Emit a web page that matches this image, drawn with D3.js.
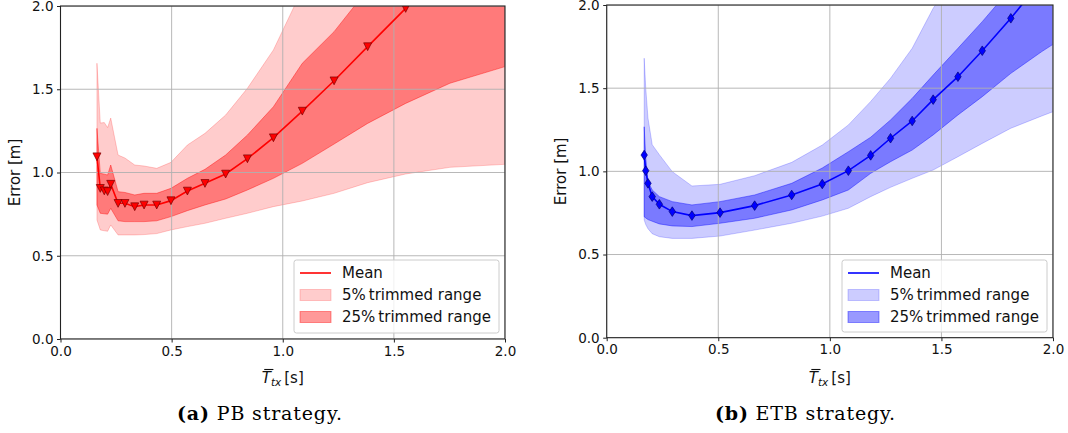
<!DOCTYPE html>
<html>
<head>
<meta charset="utf-8">
<script src="https://cdn.jsdelivr.net/npm/d3@7"></script>
<style>
  html, body { margin: 0; padding: 0; background: #fff; }
  svg { display: block; }
</style>
</head>
<body>
<svg id="chart" width="1068" height="433"></svg>
<script>
// ---------------- DATA ----------------
// (a) PB strategy
const pbT      = [0.164,0.179,0.197,0.212,0.226,0.259,0.290,0.334,0.376,0.433,0.497,0.571,0.650,0.743,0.841,0.958,1.088,1.231,1.382,1.553,1.752,2.000];
const pbMean   = [1.095,0.905,0.890,0.886,0.930,0.815,0.815,0.795,0.805,0.805,0.831,0.889,0.935,0.991,1.083,1.209,1.369,1.551,1.756,1.986,2.250,2.600];
const pbLo5    = [0.715,0.655,0.650,0.647,0.685,0.625,0.625,0.625,0.627,0.633,0.655,0.675,0.695,0.725,0.755,0.795,0.829,0.875,0.939,0.991,1.031,1.049];
const pbHi5    = [1.656,1.297,1.300,1.270,1.327,1.105,1.087,1.045,1.039,1.025,1.061,1.165,1.235,1.345,1.506,1.736,2.100,2.400,2.700,3.000,3.400,3.800];
const pbLo25   = [0.805,0.755,0.752,0.750,0.785,0.710,0.705,0.705,0.705,0.710,0.735,0.771,0.805,0.841,0.895,0.965,1.055,1.171,1.295,1.415,1.536,1.636];
const pbHi25   = [1.265,0.995,0.990,0.985,1.045,0.885,0.880,0.865,0.875,0.875,0.905,0.965,1.019,1.105,1.225,1.395,1.656,1.846,2.100,2.300,2.600,2.900];

// (b) ETB strategy
const etbT     = [0.168,0.175,0.185,0.204,0.236,0.294,0.382,0.508,0.663,0.829,0.966,1.083,1.183,1.272,1.369,1.463,1.574,1.683,1.811,1.950,2.100];
const etbMean  = [1.098,1.004,0.928,0.848,0.802,0.758,0.734,0.752,0.794,0.858,0.924,1.004,1.096,1.199,1.303,1.431,1.569,1.725,1.920,2.150,2.420];
const etbLo5   = [0.707,0.680,0.655,0.625,0.607,0.597,0.597,0.611,0.647,0.688,0.731,0.778,0.848,0.904,0.958,1.008,1.088,1.168,1.259,1.333,1.410];
const etbHi5   = [1.680,1.500,1.320,1.160,1.100,0.998,0.912,0.922,0.974,1.054,1.158,1.279,1.420,1.560,1.740,1.980,2.200,2.450,2.750,3.100,3.500];
const etbLo25  = [0.727,0.720,0.710,0.700,0.684,0.672,0.668,0.688,0.718,0.768,0.828,0.888,0.988,1.058,1.128,1.219,1.339,1.449,1.589,1.720,1.850];
const etbHi25  = [1.268,1.080,0.940,0.888,0.848,0.818,0.798,0.818,0.858,0.928,1.020,1.118,1.205,1.309,1.439,1.579,1.740,1.900,2.100,2.300,2.550];

const xTicks = [0, 0.5, 1.0, 1.5, 2.0];
const yTicks = [0, 0.5, 1.0, 1.5, 2.0];
const xDomain = [0, 2];
const yDomain = [0, 2];
const legendLabels = ["Mean", "5%\u2009trimmed range", "25%\u2009trimmed range"];
const yLabel = "Error [m]";
const captions = [["(a)", " PB strategy."], ["(b)", " ETB strategy."]];

// ---------------- LAYOUT ----------------
const svg = d3.select("#chart");
const panels = [
  { id: "pb",  left: 60.5,  right: 505,  bottom: 339,   top: 6,
    T: pbT,  mean: pbMean,  lo5: pbLo5,  hi5: pbHi5,  lo25: pbLo25,  hi25: pbHi25,
    rgb: "255,0,0", line: "#ff0000", edge: "#7a0000", marker: "tri",
    ylabX: 15, caption: captions[0], capX: 177, capW: 165,
    legend: { x: 294, y: 260, w: 205, h: 73 } },
  { id: "etb", left: 606.7, right: 1053, bottom: 337.7, top: 5,
    T: etbT, mean: etbMean, lo5: etbLo5, hi5: etbHi5, lo25: etbLo25, hi25: etbHi25,
    rgb: "0,0,255", line: "#0000ff", edge: "#00007a", marker: "dia",
    ylabX: 561, caption: captions[1], capX: 715, capW: 180,
    legend: { x: 842, y: 260, w: 205, h: 72 } }
];

const tickFont = "'DejaVu Sans', Verdana, sans-serif";

panels.forEach((p, pi) => {
  const x = d3.scaleLinear().domain(xDomain).range([p.left, p.right]);
  const y = d3.scaleLinear().domain(yDomain).range([p.bottom, p.top]);
  const g = svg.append("g");

  const clipId = "clip-" + p.id;
  svg.append("clipPath").attr("id", clipId)
    .append("rect").attr("x", p.left).attr("y", p.top)
    .attr("width", p.right - p.left).attr("height", p.bottom - p.top);

  const idx = d3.range(p.T.length);
  const area = (lo, hi) => d3.area()
    .x(i => x(p.T[i])).y0(i => y(lo[i])).y1(i => y(hi[i]))(idx);

  const data = g.append("g").attr("clip-path", `url(#${clipId})`);
  // bands
  data.append("path").attr("d", area(p.lo5, p.hi5))
    .attr("fill", `rgba(${p.rgb},0.2)`).attr("stroke", `rgba(${p.rgb},0.2)`).attr("stroke-width", 1);
  data.append("path").attr("d", area(p.lo25, p.hi25))
    .attr("fill", `rgba(${p.rgb},0.4)`).attr("stroke", `rgba(${p.rgb},0.4)`).attr("stroke-width", 1);

  // grid (above bands, below lines)
  const grid = data.append("g").attr("stroke", "#b0b0b0").attr("stroke-width", 0.9);
  xTicks.forEach(t => grid.append("line").attr("x1", x(t)).attr("x2", x(t)).attr("y1", p.top).attr("y2", p.bottom));
  yTicks.forEach(t => grid.append("line").attr("y1", y(t)).attr("y2", y(t)).attr("x1", p.left).attr("x2", p.right));

  // mean line
  data.append("path")
    .attr("d", d3.line().x(i => x(p.T[i])).y(i => y(p.mean[i]))(idx))
    .attr("fill", "none").attr("stroke", p.line).attr("stroke-width", 1.6);

  // markers
  const shape = p.marker === "tri" ? "M-4,-3.8L4,-3.8L0,4Z" : "M0,-4.8L3.2,0L0,4.8L-3.2,0Z";
  data.append("g").selectAll("path").data(idx).join("path")
    .attr("d", shape)
    .attr("transform", i => `translate(${x(p.T[i])},${y(p.mean[i])})`)
    .attr("fill", p.line).attr("stroke", p.edge).attr("stroke-width", 0.7);

  // spines
  const sp = g.append("g").attr("stroke", "#222").attr("stroke-width", 1.1).attr("fill", "none");
  sp.append("rect").attr("x", p.left).attr("y", p.top)
    .attr("width", p.right - p.left).attr("height", p.bottom - p.top);

  // axes (ticks + labels)
  const xAxis = d3.axisBottom(x).tickValues(xTicks).tickFormat(d3.format(".1f"))
    .tickSizeInner(3.5).tickSizeOuter(0).tickPadding(3.5);
  const yAxis = d3.axisLeft(y).tickValues(yTicks).tickFormat(d3.format(".1f"))
    .tickSizeInner(3.5).tickSizeOuter(0).tickPadding(3.5);
  const gx = g.append("g").attr("transform", `translate(0,${p.bottom})`).call(xAxis);
  const gy = g.append("g").attr("transform", `translate(${p.left},0)`).call(yAxis);
  [gx, gy].forEach(a => {
    a.select(".domain").remove();
    a.selectAll("line").attr("stroke", "#222").attr("stroke-width", 1);
    a.selectAll("text").attr("font-family", tickFont).attr("font-size", 13.5).attr("fill", "#111");
  });

  // y label
  g.append("text")
    .attr("transform", `translate(${p.ylabX},${(p.top + p.bottom) / 2}) rotate(-90)`)
    .attr("text-anchor", "middle").attr("dominant-baseline", "central")
    .attr("font-family", tickFont).attr("font-size", 15).attr("fill", "#111")
    .text(yLabel);

  // x label: T-bar with subscript tx
  const cx = (p.left + p.right) / 2;
  const xl = g.append("text").attr("x", cx).attr("y", 383)
    .attr("text-anchor", "middle").attr("font-family", tickFont)
    .attr("font-size", 15).attr("fill", "#111");
  xl.append("tspan").attr("font-style", "italic").text("T");
  xl.append("tspan").attr("font-style", "italic").attr("font-size", 10.5).attr("dy", 3).text("tx");
  xl.append("tspan").attr("dy", -3).text("\u2009[s]");
  const n = xl.node();
  const s0 = n.getStartPositionOfChar(0), e0 = n.getEndPositionOfChar(0);
  g.append("line").attr("x1", s0.x + 2.5).attr("x2", e0.x + 2.5)
    .attr("y1", 383 - 13.5).attr("y2", 383 - 13.5)
    .attr("stroke", "#111").attr("stroke-width", 1.1);

  // legend
  const L = p.legend;
  const lg = g.append("g");
  lg.append("rect").attr("x", L.x).attr("y", L.y).attr("width", L.w).attr("height", L.h)
    .attr("rx", 2.5).attr("fill", "rgba(255,255,255,0.8)").attr("stroke", "#cccccc").attr("stroke-width", 1);
  const rowsY = [L.y + 13, L.y + 35, L.y + 57];
  lg.append("line").attr("x1", L.x + 6).attr("x2", L.x + 37).attr("y1", rowsY[0]).attr("y2", rowsY[0])
    .attr("stroke", p.line).attr("stroke-width", 1.6);
  [0.2, 0.4].forEach((a, k) => {
    lg.append("rect").attr("x", L.x + 6).attr("y", rowsY[k + 1] - 5.5).attr("width", 31).attr("height", 11)
      .attr("fill", `rgba(${p.rgb},${a})`).attr("stroke", `rgba(${p.rgb},${a})`).attr("stroke-width", 1);
  });
  legendLabels.forEach((t, k) => {
    lg.append("text").attr("x", L.x + 48).attr("y", rowsY[k]).attr("dy", "0.36em")
      .attr("font-family", tickFont).attr("font-size", 15).attr("fill", "#111").text(t);
  });

  // caption
  const cap = svg.append("text").attr("x", p.capX).attr("y", 420)
    .attr("font-family", "'DejaVu Serif', 'Liberation Serif', serif").attr("font-size", 19).attr("fill", "#000")
    .attr("textLength", p.capW).attr("lengthAdjust", "spacing");
  cap.append("tspan").attr("font-weight", "bold").text(p.caption[0]);
  cap.append("tspan").text(p.caption[1]);
});
</script>
</body>
</html>
